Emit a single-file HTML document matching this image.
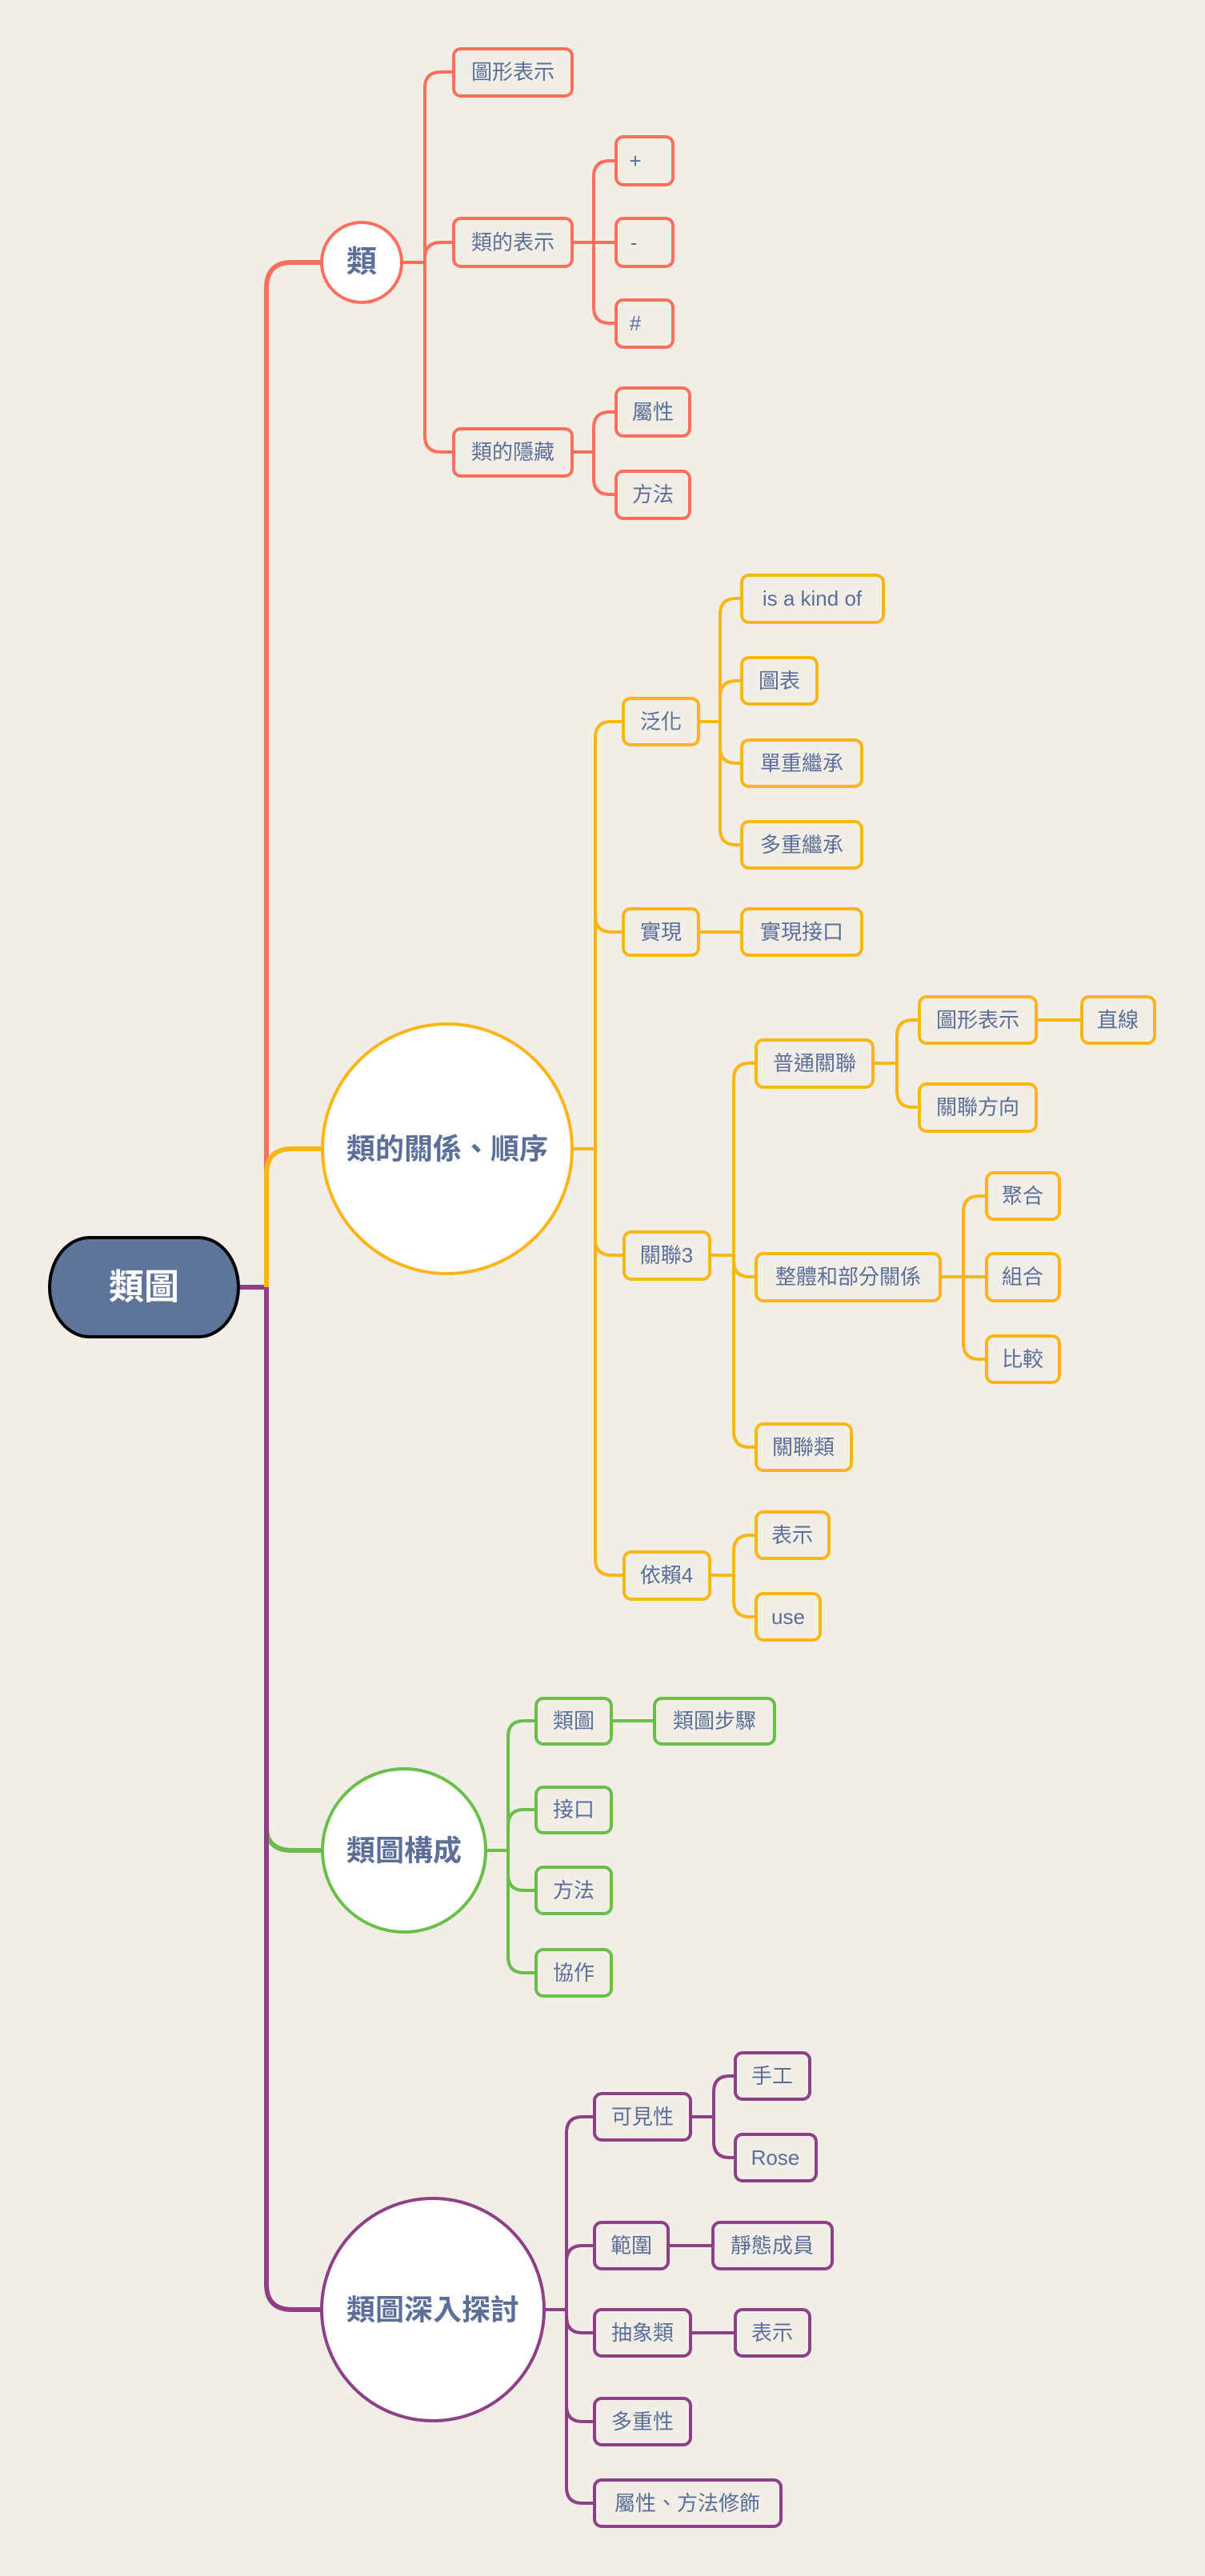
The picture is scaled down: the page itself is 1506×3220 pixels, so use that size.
<!DOCTYPE html>
<html><head><meta charset="utf-8"><style>
html,body{margin:0;padding:0;background:#F1EDE7;}
svg{display:block}
text{font-family:"Liberation Sans","Noto Sans CJK TC",sans-serif;fill:#5B6F98;font-size:26px;text-anchor:middle;dominant-baseline:central}
.b{font-weight:bold;font-size:36px}
.r{fill:#F1EDE7;stroke-width:4}
.l{fill:none;stroke-width:4}
</style></head><body>
<svg width="1506" height="3220" viewBox="0 0 1506 3220" xmlns="http://www.w3.org/2000/svg">
<rect width="1506" height="3220" fill="#F1EDE7"/>
<!-- trunk -->
<g fill="none" stroke-width="6">
<path d="M403,328 H365 Q333,328 333,360 V1609" stroke="#FF6F5B"/>
<path d="M333,2283 Q333,2313 365,2313 H403" stroke="#6ABF4B"/>
<path d="M298,1609 H333 V2855 Q333,2887 365,2887 H403" stroke="#8E3F85"/>
<path d="M333,2283 V1609" stroke="#8E3F85"/>
<path d="M403,1436 H365 Q333,1436 333,1468 V1609" stroke="#FDB515"/>
</g>

<!-- RED -->
<g stroke="#FF6F5B">
<path class="l" d="M502,328 H531 M531,328 V110 Q531,90 551,90 H567 M531,303 V323 M531,323 Q531,303 551,303 H567 M531,328 V545 Q531,565 551,565 H567"/>
<path class="l" d="M715,303 H770 M742,303 V221 Q742,201 762,201 H770 M742,303 V384 Q742,404 762,404 H770"/>
<path class="l" d="M715,565 H742 M742,565 V535 Q742,515 762,515 H770 M742,565 V598 Q742,618 762,618 H770"/>
<ellipse cx="452" cy="328" rx="50" ry="50" fill="#fff" stroke-width="4"/>
<rect class="r" x="567" y="61" width="148" height="59" rx="9"/>
<rect class="r" x="567" y="273" width="148" height="60" rx="9"/>
<rect class="r" x="567" y="536" width="148" height="59" rx="9"/>
<rect class="r" x="770" y="171" width="71" height="60" rx="9"/>
<rect class="r" x="770" y="273" width="71" height="60" rx="9"/>
<rect class="r" x="770" y="375" width="71" height="59" rx="9"/>
<rect class="r" x="770" y="485" width="92" height="60" rx="9"/>
<rect class="r" x="770" y="589" width="92" height="59" rx="9"/>
</g>
<text class="b" x="452" y="328" style="font-size:38px">類</text>
<text x="641" y="90">圖形表示</text>
<text x="641" y="303">類的表示</text>
<text x="641" y="565">類的隱藏</text>
<text x="794" y="201">+</text>
<text x="792" y="303">-</text>
<text x="794" y="404">#</text>
<text x="816" y="515">屬性</text>
<text x="816" y="618">方法</text>

<!-- ORANGE -->
<g stroke="#FDB515">
<path class="l" d="M715,1436 H744 M744,1436 V922 Q744,902 764,902 H779 M744,1436 V1145 Q744,1165 764,1165 H779 M744,1436 V1549 Q744,1569 764,1569 H780 M744,1436 V1949 Q744,1969 764,1969 H780"/>
<path class="l" d="M873,902 H900 M900,902 V768 Q900,748 920,748 H927 M900,902 V871 Q900,851 920,851 H927 M900,902 V934 Q900,954 920,954 H927 M900,902 V1036 Q900,1056 920,1056 H927"/>
<path class="l" d="M873,1165 H927"/>
<path class="l" d="M887,1569 H917 M917,1569 V1349 Q917,1329 937,1329 H945 M917,1569 V1576 Q917,1596 937,1596 H945 M917,1569 V1789 Q917,1809 937,1809 H945"/>
<path class="l" d="M1091,1329 H1121 M1121,1329 V1295 Q1121,1275 1141,1275 H1149 M1121,1329 V1364 Q1121,1384 1141,1384 H1149"/>
<path class="l" d="M1295,1275 H1352"/>
<path class="l" d="M1175,1596 H1233 M1204,1596 V1515 Q1204,1495 1224,1495 H1233 M1204,1596 V1679 Q1204,1699 1224,1699 H1233"/>
<path class="l" d="M887,1969 H917 M917,1969 V1939 Q917,1919 937,1919 H945 M917,1969 V2001 Q917,2021 937,2021 H945"/>
<ellipse cx="559" cy="1436" rx="156" ry="156" fill="#fff" stroke-width="4"/>
<rect class="r" x="779" y="873" width="94" height="58" rx="9"/>
<rect class="r" x="779" y="1136" width="94" height="58" rx="9"/>
<rect class="r" x="780" y="1540" width="107" height="59" rx="9"/>
<rect class="r" x="780" y="1940" width="107" height="59" rx="9"/>
<rect class="r" x="927" y="719" width="177" height="59" rx="9"/>
<rect class="r" x="927" y="822" width="94" height="58" rx="9"/>
<rect class="r" x="927" y="925" width="150" height="58" rx="9"/>
<rect class="r" x="927" y="1027" width="150" height="58" rx="9"/>
<rect class="r" x="927" y="1136" width="150" height="58" rx="9"/>
<rect class="r" x="945" y="1300" width="146" height="59" rx="9"/>
<rect class="r" x="945" y="1567" width="230" height="59" rx="9"/>
<rect class="r" x="945" y="1780" width="119" height="58" rx="9"/>
<rect class="r" x="1149" y="1246" width="146" height="58" rx="9"/>
<rect class="r" x="1149" y="1355" width="146" height="59" rx="9"/>
<rect class="r" x="1352" y="1246" width="91" height="58" rx="9"/>
<rect class="r" x="1233" y="1466" width="91" height="58" rx="9"/>
<rect class="r" x="1233" y="1567" width="91" height="59" rx="9"/>
<rect class="r" x="1233" y="1670" width="91" height="58" rx="9"/>
<rect class="r" x="945" y="1890" width="91" height="58" rx="9"/>
<rect class="r" x="945" y="1992" width="80" height="58" rx="9"/>
</g>
<text class="b" x="559" y="1436">類的關係、順序</text>
<text x="826" y="902">泛化</text>
<text x="826" y="1165">實現</text>
<text x="833" y="1569">關聯3</text>
<text x="833" y="1969">依賴4</text>
<text x="1015" y="748">is a kind of</text>
<text x="974" y="851">圖表</text>
<text x="1002" y="954">單重繼承</text>
<text x="1002" y="1056">多重繼承</text>
<text x="1002" y="1165">實現接口</text>
<text x="1018" y="1329">普通關聯</text>
<text x="1060" y="1596">整體和部分關係</text>
<text x="1004" y="1809">關聯類</text>
<text x="1222" y="1275">圖形表示</text>
<text x="1222" y="1384">關聯方向</text>
<text x="1397" y="1275">直線</text>
<text x="1278" y="1495">聚合</text>
<text x="1278" y="1596">組合</text>
<text x="1278" y="1699">比較</text>
<text x="990" y="1919">表示</text>
<text x="985" y="2021">use</text>

<!-- GREEN -->
<g stroke="#6ABF4B">
<path class="l" d="M607,2313 H635 M635,2313 V2171 Q635,2151 655,2151 H670 M635,2313 V2282 Q635,2262 655,2262 H670 M635,2313 V2343 Q635,2363 655,2363 H670 M635,2313 V2446 Q635,2466 655,2466 H670"/>
<path class="l" d="M764,2151 H818"/>
<ellipse cx="505" cy="2313" rx="102" ry="102" fill="#fff" stroke-width="4"/>
<rect class="r" x="670" y="2123" width="94" height="57" rx="9"/>
<rect class="r" x="670" y="2234" width="94" height="57" rx="9"/>
<rect class="r" x="670" y="2334" width="94" height="58" rx="9"/>
<rect class="r" x="670" y="2437" width="94" height="58" rx="9"/>
<rect class="r" x="818" y="2123" width="150" height="57" rx="9"/>
</g>
<text class="b" x="505" y="2313">類圖構成</text>
<text x="717" y="2151">類圖</text>
<text x="717" y="2262">接口</text>
<text x="717" y="2363">方法</text>
<text x="717" y="2466">協作</text>
<text x="893" y="2151">類圖步驟</text>

<!-- PURPLE -->
<g stroke="#8E3F85">
<path class="l" d="M680,2887 H708 M708,2887 V2666 Q708,2646 728,2646 H743 M708,2887 V2827 Q708,2807 728,2807 H743 M708,2887 V2896 Q708,2916 728,2916 H743 M708,2887 V3007 Q708,3027 728,3027 H743 M708,2887 V3109 Q708,3129 728,3129 H743"/>
<path class="l" d="M863,2646 H892 M892,2646 V2615 Q892,2595 912,2595 H919 M892,2646 V2677 Q892,2697 912,2697 H919"/>
<path class="l" d="M835,2807 H891"/>
<path class="l" d="M863,2916 H919"/>
<ellipse cx="541" cy="2887" rx="139" ry="139" fill="#fff" stroke-width="4"/>
<rect class="r" x="743" y="2617" width="120" height="58" rx="9"/>
<rect class="r" x="743" y="2778" width="92" height="58" rx="9"/>
<rect class="r" x="743" y="2887" width="120" height="58" rx="9"/>
<rect class="r" x="743" y="2998" width="120" height="58" rx="9"/>
<rect class="r" x="743" y="3100" width="233" height="58" rx="9"/>
<rect class="r" x="919" y="2566" width="93" height="58" rx="9"/>
<rect class="r" x="919" y="2668" width="101" height="58" rx="9"/>
<rect class="r" x="891" y="2778" width="149" height="58" rx="9"/>
<rect class="r" x="919" y="2887" width="93" height="58" rx="9"/>
</g>
<text class="b" x="541" y="2887">類圖深入探討</text>
<text x="803" y="2646">可見性</text>
<text x="789" y="2807">範圍</text>
<text x="803" y="2916">抽象類</text>
<text x="803" y="3027">多重性</text>
<text x="859" y="3129">屬性、方法修飾</text>
<text x="965" y="2595">手工</text>
<text x="969" y="2697">Rose</text>
<text x="965" y="2807">靜態成員</text>
<text x="965" y="2916">表示</text>

<!-- ROOT -->
<rect x="62" y="1547" width="236" height="124" rx="50" ry="62" fill="#5E7499" stroke="#000" stroke-width="4"/>
<text x="180" y="1609" style="fill:#fff;font-weight:bold;font-size:44px">類圖</text>
</svg>
</body></html>
